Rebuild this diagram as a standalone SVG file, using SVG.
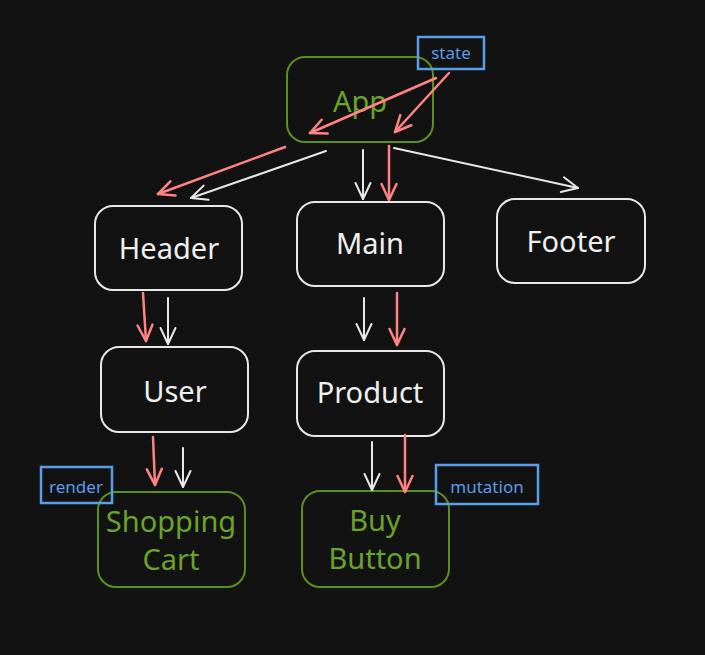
<svg xmlns="http://www.w3.org/2000/svg" width="705" height="655" viewBox="0 0 705 655">
<defs>
<style>
.node{fill:#121212;stroke:#e8e8e8;stroke-width:2}
.gnode{fill:#121212;stroke:#5b9020;stroke-width:2}
.lab{fill:none;stroke:#5a9de8;stroke-width:2.5}
.t{font-family:"Noto Sans",sans-serif;font-size:29px;fill:#f0f0f0;text-anchor:middle;dominant-baseline:central}
.gt{font-family:"Noto Sans",sans-serif;font-size:29px;fill:#6aa22a;text-anchor:middle;dominant-baseline:central}
.lt{font-family:"Noto Sans",sans-serif;font-size:17px;fill:#5a9de8;text-anchor:middle;dominant-baseline:central}
.w{stroke:#e8e8e8;stroke-width:2;fill:none;stroke-linecap:round;marker-end:url(#aw)}
.r{stroke:#ff8383;stroke-width:2.5;fill:none;stroke-linecap:round;marker-end:url(#ar)}
</style>
<marker id="aw" markerUnits="userSpaceOnUse" markerWidth="24" markerHeight="24" viewBox="-20 -12 24 24" refX="0" refY="0" orient="auto">
<path d="M-16,-7.5 L0,0 L-16,7.5" fill="none" stroke="#e8e8e8" stroke-width="2" stroke-linecap="round" stroke-linejoin="round"/>
</marker>
<marker id="ar" markerUnits="userSpaceOnUse" markerWidth="24" markerHeight="24" viewBox="-20 -12 24 24" refX="0" refY="0" orient="auto">
<path d="M-16,-7.5 L0,0 L-16,7.5" fill="none" stroke="#ff8383" stroke-width="2.5" stroke-linecap="round" stroke-linejoin="round"/>
</marker>
</defs>
<rect width="705" height="655" fill="#121212"/>

<g id="app"><rect class="gnode" x="287" y="57" width="146" height="85" rx="18"/><text class="gt" x="360" y="100">App</text></g>
<g id="header"><rect class="node" x="95" y="206" width="147" height="84" rx="18"/><text class="t" x="169" y="247">Header</text></g>
<g id="main"><rect class="node" x="297" y="202" width="147" height="84" rx="18"/><text class="t" x="370" y="242">Main</text></g>
<g id="footer"><rect class="node" x="497" y="199" width="148" height="84" rx="18"/><text class="t" x="571" y="240">Footer</text></g>
<g id="user"><rect class="node" x="101" y="347" width="147" height="85" rx="18"/><text class="t" x="175" y="390">User</text></g>
<g id="product"><rect class="node" x="297" y="351" width="147" height="85" rx="18"/><text class="t" x="370" y="391">Product</text></g>
<g id="cart"><rect class="gnode" x="98" y="492" width="147" height="95" rx="18"/><text class="gt" x="171" y="520">Shopping</text><text class="gt" x="171" y="558">Cart</text></g>
<g id="buy"><rect class="gnode" x="302" y="491" width="147" height="96" rx="18"/><text class="gt" x="375" y="519">Buy</text><text class="gt" x="375" y="557">Button</text></g>

<g id="connectors">
<line class="r" x1="436" y1="78" x2="310" y2="133"/>
<line class="r" x1="449" y1="73" x2="395" y2="132"/>
<line class="r" x1="285" y1="147" x2="158" y2="194"/>
<line class="w" x1="326" y1="151" x2="191" y2="198"/>
<line class="w" x1="363" y1="150" x2="363" y2="199"/>
<line class="r" x1="389" y1="146" x2="389" y2="200"/>
<line class="w" x1="394" y1="148" x2="578" y2="188"/>
<line class="r" x1="143" y1="293" x2="146" y2="341"/>
<line class="w" x1="168" y1="298" x2="168" y2="344"/>
<line class="w" x1="364" y1="298" x2="364" y2="340"/>
<line class="r" x1="397" y1="293" x2="397" y2="345"/>
<line class="r" x1="153" y1="437" x2="155" y2="485"/>
<line class="w" x1="183" y1="448" x2="183" y2="487"/>
<line class="w" x1="372" y1="442" x2="372" y2="490"/>
<line class="r" x1="405" y1="435" x2="405" y2="492"/>
</g>

<g id="state"><rect class="lab" x="418" y="37" width="66" height="32"/><text class="lt" x="451" y="52">state</text></g>
<g id="render"><rect class="lab" x="41" y="467" width="71" height="36"/><text class="lt" x="76" y="486">render</text></g>
<g id="mutation"><rect class="lab" x="436" y="465" width="102" height="39"/><text class="lt" x="487" y="486">mutation</text></g>
</svg>
